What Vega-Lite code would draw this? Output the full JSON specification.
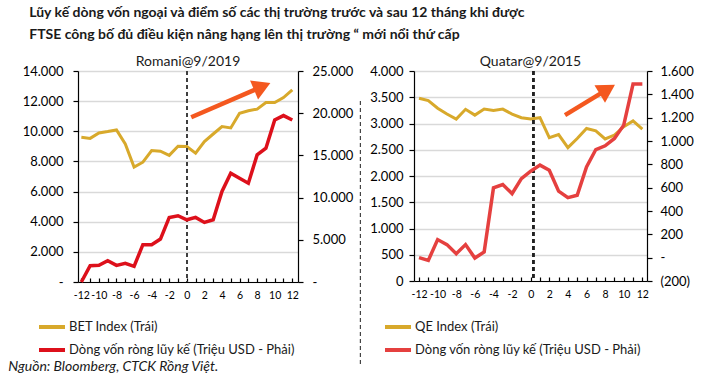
{
  "$schema": "https://vega.github.io/schema/vega-lite/v6.json",
  "padding": {"left": 8, "top": 6, "right": 5, "bottom": 0},
  "background": "white",
  "title": {
    "text": ["Lũy kế dòng vốn ngoại và điểm số các thị trường trước và sau 12 tháng khi được", "FTSE công bố đủ điều kiện nâng hạng lên thị trường “ mới nổi thứ cấp"],
    "anchor": "start",
    "font": "Lato",
    "fontSize": 14,
    "fontWeight": "bold",
    "color": "#1a1a1a",
    "lineHeight": 22,
    "dx": 21,
    "offset": 13
  },
  "config": {
    "view": {"stroke": null},
    "font": "Lato",
    "axis": {
      "domainColor": "#000000",
      "tickColor": "#000000",
      "labelColor": "#000000",
      "labelFont": "Lato",
      "labelFontSize": 13,
      "gridColor": "#d9d9d9",
      "gridWidth": 1.5,
      "domainWidth": 1.2,
      "tickWidth": 1.2,
      "labelOverlap": false,
      "labelFlush": false
    },
    "title": {"font": "Lato", "fontSize": 14, "fontWeight": "normal", "color": "#1a1a1a"},
    "legend": {"padding": 0, "labelLimit": 0}
  },
  "datasets": {
    "romania": [
      {"m": -12, "idx": 9600, "flow": 0},
      {"m": -11, "idx": 9530, "flow": 1930},
      {"m": -10, "idx": 9890, "flow": 1970},
      {"m": -9, "idx": 9980, "flow": 2520},
      {"m": -8, "idx": 10090, "flow": 1970},
      {"m": -7, "idx": 9160, "flow": 2210},
      {"m": -6, "idx": 7620, "flow": 1850},
      {"m": -5, "idx": 7950, "flow": 4420},
      {"m": -4, "idx": 8720, "flow": 4420},
      {"m": -3, "idx": 8680, "flow": 5090},
      {"m": -2, "idx": 8400, "flow": 7650},
      {"m": -1, "idx": 9010, "flow": 7850},
      {"m": 0, "idx": 8990, "flow": 7370},
      {"m": 1, "idx": 8550, "flow": 7650},
      {"m": 2, "idx": 9320, "flow": 7060},
      {"m": 3, "idx": 9820, "flow": 7370},
      {"m": 4, "idx": 10310, "flow": 10730},
      {"m": 5, "idx": 10220, "flow": 12890},
      {"m": 6, "idx": 11190, "flow": 12300},
      {"m": 7, "idx": 11360, "flow": 11710},
      {"m": 8, "idx": 11470, "flow": 15060},
      {"m": 9, "idx": 11910, "flow": 15850},
      {"m": 10, "idx": 11910, "flow": 19200},
      {"m": 11, "idx": 12240, "flow": 19720},
      {"m": 12, "idx": 12750, "flow": 19200}
    ],
    "qatar": [
      {"m": -12, "idx": 3480, "flow": 0},
      {"m": -11, "idx": 3435, "flow": -23},
      {"m": -10, "idx": 3290, "flow": 155},
      {"m": -9, "idx": 3180, "flow": 112},
      {"m": -8, "idx": 3085, "flow": 34},
      {"m": -7, "idx": 3270, "flow": 112},
      {"m": -6, "idx": 3160, "flow": -3},
      {"m": -5, "idx": 3275, "flow": 49},
      {"m": -4, "idx": 3250, "flow": 598},
      {"m": -3, "idx": 3275, "flow": 627},
      {"m": -2, "idx": 3180, "flow": 549},
      {"m": -1, "idx": 3110, "flow": 678},
      {"m": 0, "idx": 3085, "flow": 741},
      {"m": 1, "idx": 3110, "flow": 793},
      {"m": 2, "idx": 2730, "flow": 750},
      {"m": 3, "idx": 2790, "flow": 570},
      {"m": 4, "idx": 2540, "flow": 515},
      {"m": 5, "idx": 2715, "flow": 535},
      {"m": 6, "idx": 2905, "flow": 778},
      {"m": 7, "idx": 2860, "flow": 927},
      {"m": 8, "idx": 2705, "flow": 959},
      {"m": 9, "idx": 2780, "flow": 1022},
      {"m": 10, "idx": 2940, "flow": 1136},
      {"m": 11, "idx": 3050, "flow": 1488},
      {"m": 12, "idx": 2895, "flow": 1488}
    ],
    "arrowL": [{"m": 0.5, "idx": 10930}, {"m": 8.58, "idx": 12970}],
    "headL": [{"m": 8.58, "idx": 12970}],
    "arrowR": [{"m": 3.69, "idx": 3160}, {"m": 8.24, "idx": 3650}],
    "headR": [{"m": 8.24, "idx": 3650}],
    "sepR": [{"m": -18.3, "s": 0.857}, {"m": -18.3, "s": -0.395}]
  },
  "vconcat": [
    {
      "title": {
        "text": "Nguồn: Bloomberg, CTCK Rồng Việt.",
        "orient": "bottom",
        "anchor": "start",
        "font": "Lato",
        "fontStyle": "italic",
        "fontSize": 14,
        "fontWeight": "normal",
        "color": "#1a1a1a",
        "offset": -6,
        "dx": -14
      },
      "spacing": 5,
      "resolve": {"scale": {"color": "independent"}},
      "hconcat": [
        {
          "title": {"text": "Romani@9/2019", "offset": -4},
          "width": 220,
          "height": 211,
          "resolve": {"scale": {"y": "independent"}},
          "layer": [
            {
              "layer": [
                {
                  "data": {"name": "romania"},
                  "mark": {"type": "line", "strokeWidth": 3},
                  "encoding": {
                    "x": {"field": "m", "type": "quantitative", "scale": {"domain": [-12.38, 12.65], "nice": false, "zero": false},
                      "axis": {"title": null, "values": [-12,-11,-10,-9,-8,-7,-6,-5,-4,-3,-2,-1,0,1,2,3,4,5,6,7,8,9,10,11,12], "labelExpr": "datum.value % 2 == 0 ? '' + datum.value : ''", "labelOverlap": false, "grid": false, "tickSize": -4, "labelFontSize": 10.5, "labelPadding": 12}},
                    "y": {"field": "idx", "type": "quantitative", "scale": {"domain": [0, 14000], "nice": false},
                      "axis": {"title": null, "orient": "left", "values": [0,2000,4000,6000,8000,10000,12000,14000], "labelExpr": "datum.value == 0 ? '-' : replace(format(datum.value, ','), ',', '.')", "labelOverlap": false, "grid": true, "tickSize": 5, "labelPadding": 10}},
                    "color": {"datum": "BET Index (Trái)", "type": "nominal",
                      "scale": {"domain": ["BET Index (Trái)", "Dòng vốn ròng lũy kế (Triệu USD - Phải)"], "range": ["#D8A92B", "#DD101B"]},
                      "legend": {"orient": "none", "legendX": -41, "legendY": 241, "title": null, "symbolType": "stroke", "symbolStrokeWidth": 4, "symbolSize": 676, "labelFontSize": 13, "labelFont": "Lato", "labelColor": "#1a1a1a", "labelOffset": 2, "labelLimit": 400, "rowPadding": -1}}
                  }
                },
                {
                  "data": {"name": "romania"},
                  "mark": {"type": "rule", "color": "#404040", "strokeDash": [4, 3], "strokeWidth": 1.2},
                  "encoding": {"x": {"datum": 0, "type": "quantitative",
                    "axis": {"title": null, "values": [-12,-11,-10,-9,-8,-7,-6,-5,-4,-3,-2,-1,0,1,2,3,4,5,6,7,8,9,10,11,12], "labelExpr": "datum.value % 2 == 0 ? '' + datum.value : ''", "labelOverlap": false, "grid": false, "tickSize": -4, "labelFontSize": 10.5, "labelPadding": 12}}}
                },
                {
                  "data": {"name": "arrowL"},
                  "mark": {"type": "line", "color": "#F4581F", "strokeWidth": 4.5},
                  "encoding": {
                    "x": {"field": "m", "type": "quantitative",
                      "axis": {"title": null, "values": [-12,-11,-10,-9,-8,-7,-6,-5,-4,-3,-2,-1,0,1,2,3,4,5,6,7,8,9,10,11,12], "labelExpr": "datum.value % 2 == 0 ? '' + datum.value : ''", "labelOverlap": false, "grid": false, "tickSize": -4, "labelFontSize": 10.5, "labelPadding": 12}},
                    "y": {"field": "idx", "type": "quantitative",
                      "axis": {"title": null, "orient": "left", "values": [0,2000,4000,6000,8000,10000,12000,14000], "labelExpr": "datum.value == 0 ? '-' : replace(format(datum.value, ','), ',', '.')", "labelOverlap": false, "grid": true, "tickSize": 5, "labelPadding": 10}}
                  }
                },
                {
                  "data": {"name": "headL"},
                  "mark": {"type": "point", "shape": "triangle-up", "filled": true, "color": "#F4581F", "opacity": 1, "size": 420, "angle": 67},
                  "encoding": {
                    "x": {"field": "m", "type": "quantitative",
                      "axis": {"title": null, "values": [-12,-11,-10,-9,-8,-7,-6,-5,-4,-3,-2,-1,0,1,2,3,4,5,6,7,8,9,10,11,12], "labelExpr": "datum.value % 2 == 0 ? '' + datum.value : ''", "labelOverlap": false, "grid": false, "tickSize": -4, "labelFontSize": 10.5, "labelPadding": 12}},
                    "y": {"field": "idx", "type": "quantitative",
                      "axis": {"title": null, "orient": "left", "values": [0,2000,4000,6000,8000,10000,12000,14000], "labelExpr": "datum.value == 0 ? '-' : replace(format(datum.value, ','), ',', '.')", "labelOverlap": false, "grid": true, "tickSize": 5, "labelPadding": 10}}
                  }
                }
              ]
            },
            {
              "data": {"name": "romania"},
              "mark": {"type": "line", "strokeWidth": 3.5},
              "encoding": {
                "x": {"field": "m", "type": "quantitative",
                  "axis": {"title": null, "values": [-12,-11,-10,-9,-8,-7,-6,-5,-4,-3,-2,-1,0,1,2,3,4,5,6,7,8,9,10,11,12], "labelExpr": "datum.value % 2 == 0 ? '' + datum.value : ''", "labelOverlap": false, "grid": false, "tickSize": -4, "labelFontSize": 10.5, "labelPadding": 12}},
                "y": {"field": "flow", "type": "quantitative", "scale": {"domain": [0, 25000], "nice": false},
                  "axis": {"title": null, "orient": "right", "values": [0,5000,10000,15000,20000,25000], "labelExpr": "datum.value == 0 ? '-' : replace(format(datum.value, ','), ',', '.')", "labelOverlap": false, "grid": false, "tickSize": 5, "labelPadding": 9}},
                "color": {"datum": "Dòng vốn ròng lũy kế (Triệu USD - Phải)", "type": "nominal"}
              }
            }
          ]
        },
        {
          "title": {"text": "Quatar@9/2015", "offset": -4},
          "width": 233,
          "height": 210,
          "resolve": {"scale": {"y": "independent"}},
          "layer": [
            {
              "layer": [
                {
                  "data": {"name": "qatar"},
                  "mark": {"type": "line", "strokeWidth": 3},
                  "encoding": {
                    "x": {"field": "m", "type": "quantitative", "scale": {"domain": [-12.54, 12.5], "nice": false, "zero": false},
                      "axis": {"title": null, "values": [-12,-11,-10,-9,-8,-7,-6,-5,-4,-3,-2,-1,0,1,2,3,4,5,6,7,8,9,10,11,12], "labelExpr": "datum.value % 2 == 0 ? '' + datum.value : ''", "labelOverlap": false, "grid": false, "tickSize": -4, "labelFontSize": 10.5, "labelPadding": 12}},
                    "y": {"field": "idx", "type": "quantitative", "scale": {"domain": [0, 4000], "nice": false},
                      "axis": {"title": null, "orient": "left", "values": [0,500,1000,1500,2000,2500,3000,3500,4000], "labelExpr": "replace(format(datum.value, ','), ',', '.')", "labelOverlap": false, "grid": true, "tickSize": 5, "labelPadding": 6}},
                    "color": {"datum": "QE Index (Trái)", "type": "nominal",
                      "scale": {"domain": ["QE Index (Trái)", "Dòng vốn ròng lũy kế (Triệu USD - Phải)"], "range": ["#D8A92B", "#E5403F"]},
                      "legend": {"orient": "none", "legendX": -31, "legendY": 241, "title": null, "symbolType": "stroke", "symbolStrokeWidth": 4, "symbolSize": 676, "labelFontSize": 13, "labelFont": "Lato", "labelColor": "#1a1a1a", "labelOffset": 2, "labelLimit": 400, "rowPadding": -1}}
                  }
                },
                {
                  "data": {"name": "qatar"},
                  "mark": {"type": "rule", "color": "#202020", "strokeDash": [4, 3], "strokeWidth": 1.2},
                  "encoding": {"x": {"datum": 0.3, "type": "quantitative",
                    "axis": {"title": null, "values": [-12,-11,-10,-9,-8,-7,-6,-5,-4,-3,-2,-1,0,1,2,3,4,5,6,7,8,9,10,11,12], "labelExpr": "datum.value % 2 == 0 ? '' + datum.value : ''", "labelOverlap": false, "grid": false, "tickSize": -4, "labelFontSize": 10.5, "labelPadding": 12}}}
                },
                {
                  "data": {"name": "arrowR"},
                  "mark": {"type": "line", "color": "#F4581F", "strokeWidth": 4.5},
                  "encoding": {
                    "x": {"field": "m", "type": "quantitative",
                      "axis": {"title": null, "values": [-12,-11,-10,-9,-8,-7,-6,-5,-4,-3,-2,-1,0,1,2,3,4,5,6,7,8,9,10,11,12], "labelExpr": "datum.value % 2 == 0 ? '' + datum.value : ''", "labelOverlap": false, "grid": false, "tickSize": -4, "labelFontSize": 10.5, "labelPadding": 12}},
                    "y": {"field": "idx", "type": "quantitative",
                      "axis": {"title": null, "orient": "left", "values": [0,500,1000,1500,2000,2500,3000,3500,4000], "labelExpr": "replace(format(datum.value, ','), ',', '.')", "labelOverlap": false, "grid": true, "tickSize": 5, "labelPadding": 6}}
                  }
                },
                {
                  "data": {"name": "headR"},
                  "mark": {"type": "point", "shape": "triangle-up", "filled": true, "color": "#F4581F", "opacity": 1, "size": 420, "angle": 59},
                  "encoding": {
                    "x": {"field": "m", "type": "quantitative",
                      "axis": {"title": null, "values": [-12,-11,-10,-9,-8,-7,-6,-5,-4,-3,-2,-1,0,1,2,3,4,5,6,7,8,9,10,11,12], "labelExpr": "datum.value % 2 == 0 ? '' + datum.value : ''", "labelOverlap": false, "grid": false, "tickSize": -4, "labelFontSize": 10.5, "labelPadding": 12}},
                    "y": {"field": "idx", "type": "quantitative",
                      "axis": {"title": null, "orient": "left", "values": [0,500,1000,1500,2000,2500,3000,3500,4000], "labelExpr": "replace(format(datum.value, ','), ',', '.')", "labelOverlap": false, "grid": true, "tickSize": 5, "labelPadding": 6}}
                  }
                }
              ]
            },
            {
              "data": {"name": "qatar"},
              "mark": {"type": "line", "strokeWidth": 3.5},
              "encoding": {
                "x": {"field": "m", "type": "quantitative",
                  "axis": {"title": null, "values": [-12,-11,-10,-9,-8,-7,-6,-5,-4,-3,-2,-1,0,1,2,3,4,5,6,7,8,9,10,11,12], "labelExpr": "datum.value % 2 == 0 ? '' + datum.value : ''", "labelOverlap": false, "grid": false, "tickSize": -4, "labelFontSize": 10.5, "labelPadding": 12}},
                "y": {"field": "flow", "type": "quantitative", "scale": {"domain": [-200, 1600], "nice": false},
                  "axis": {"title": null, "orient": "right", "values": [-200,0,200,400,600,800,1000,1200,1400,1600], "labelExpr": "datum.value == 0 ? '-' : (datum.value < 0 ? '(' + format(-datum.value, ',') + ')' : replace(format(datum.value, ','), ',', '.'))", "labelOverlap": false, "grid": false, "tickSize": 5, "labelPadding": 8}},
                "color": {"datum": "Dòng vốn ròng lũy kế (Triệu USD - Phải)", "type": "nominal"}
              }
            },
            {
              "data": {"name": "sepR"},
              "mark": {"type": "line", "color": "#444444", "strokeDash": [4, 3], "strokeWidth": 1.2, "clip": false},
              "encoding": {
                "x": {"field": "m", "type": "quantitative",
                  "axis": {"title": null, "values": [-12,-11,-10,-9,-8,-7,-6,-5,-4,-3,-2,-1,0,1,2,3,4,5,6,7,8,9,10,11,12], "labelExpr": "datum.value % 2 == 0 ? '' + datum.value : ''", "labelOverlap": false, "grid": false, "tickSize": -4, "labelFontSize": 10.5, "labelPadding": 12}},
                "y": {"field": "s", "type": "quantitative", "scale": {"domain": [0, 1], "nice": false}, "axis": null}
              }
            }
          ]
        }
      ]
    }
  ]
}
